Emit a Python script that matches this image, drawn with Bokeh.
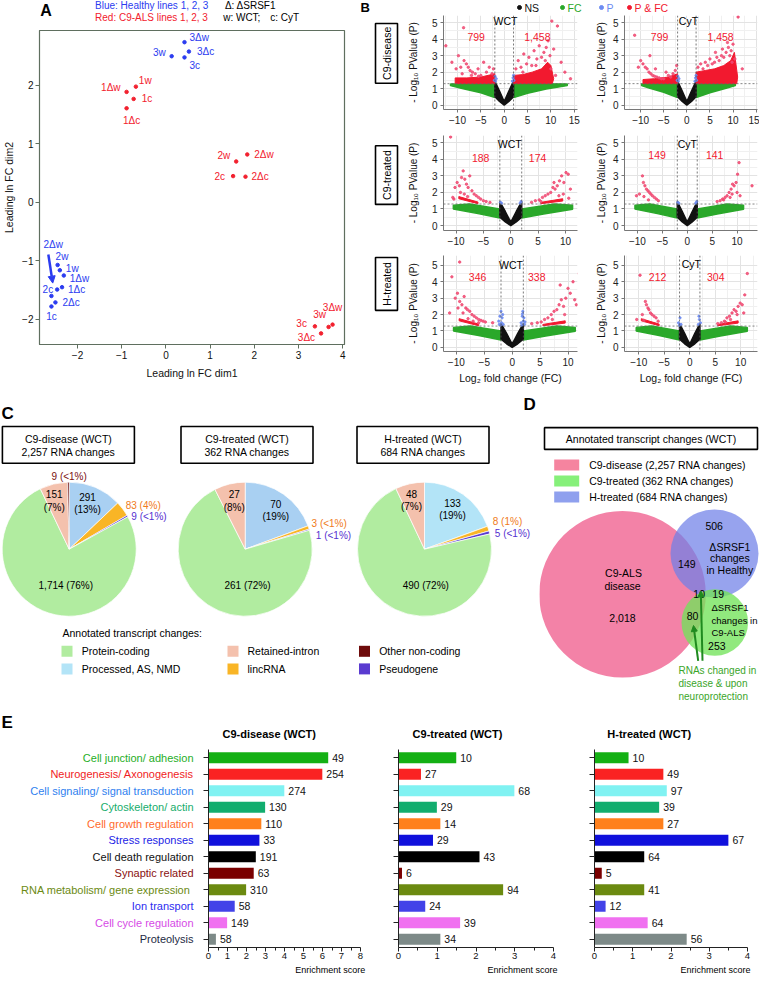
import numpy as np
from bokeh.plotting import figure
from bokeh.layouts import row, column
from bokeh.models import Range1d, FactorRange, FixedTicker, Arrow, NormalHead, Span
from bokeh.core.properties import value
from bokeh.embed import file_html
from bokeh.resources import INLINE

FONT = "Liberation Sans"
BLUE = "#2b3cf0"
RED = "#f2202e"

# ---------------- Panel A data (MDS plot) ----------------
a_xticks = [-2, -1, 0, 1, 2, 3, 4]
a_yticks = [-2, -1, 0, 1, 2]
healthy_labels = ["3\u0394w", "3w", "3\u0394c", "3c", "2w", "1w", "1\u0394w", "1\u0394c", "2c", "2\u0394w", "2\u0394c", "1c"]
healthy_x = [0.42, 0.13, 0.52, 0.42, -2.45, -2.40, -2.31, -2.35, -2.46, -2.59, -2.50, -2.59]
healthy_y = [2.74, 2.50, 2.58, 2.48, -1.07, -1.16, -1.25, -1.45, -1.49, -1.60, -1.71, -1.78]
c9_labels = ["1w", "1\u0394w", "1c", "1\u0394c", "2w", "2\u0394w", "2c", "2\u0394c", "3c", "3w", "3\u0394w", "3\u0394c"]
c9_x = [-0.68, -0.89, -0.73, -0.89, 1.59, 1.84, 1.52, 1.80, 3.37, 3.68, 3.77, 3.51]
c9_y = [1.98, 1.89, 1.77, 1.61, 0.70, 0.82, 0.45, 0.44, -2.12, -2.13, -2.09, -2.24]
# label placement (style): align, dx, dy in px
healthy_lab_style = [("left", 5, -5), ("right", -6, -4), ("left", 8, 0), ("left", 5, 8),
                     ("left", -2, -8), ("left", 6, -2), ("left", 6, 3), ("left", 6, 2),
                     ("right", -4, 0), ("left", -8, -51), ("left", 7, 0), ("center", 0, 10)]
c9_lab_style = [("left", 3, -6), ("right", -6, -4), ("left", 8, 0), ("center", 5, 12),
                ("right", -6, -6), ("left", 7, 0), ("right", -8, 0), ("left", 6, 0),
                ("right", -8, -3), ("center", -9, -12), ("center", 0, -17), ("right", -6, 4)]

# ---------------- Panel B data (volcano plots, envelopes) ----------------
V_X = [-2.0, -2.0, -1.0, 0.0, 1.0, 2.0, 2.0, 1.0, 0.15, -0.15, -1.0]
V_Y = [1.45, 0.50, 0.22, 0.0, 0.22, 0.50, 1.45, 0.85, 0.30, 0.30, 0.85]
# green wings, row 1
g1w_R_X = [2.0, 2.0, 5.0, 9.0, 13.5, 13.5, 2.0]
g1w_R_Y = [1.30, 0.45, 0.72, 0.98, 1.18, 1.28, 1.30]
g1w_L_X = [-2.0, -2.0, -5.0, -9.0, -11.5, -11.5, -2.0]
g1w_L_Y = [1.30, 0.45, 0.75, 1.00, 1.18, 1.28, 1.30]
g1c_R_X = [2.0, 2.0, 5.0, 8.5, 10.5, 10.5, 2.0]
g1c_R_Y = [1.30, 0.45, 0.75, 1.02, 1.18, 1.28, 1.30]
g1c_L_X = [-2.0, -2.0, -5.0, -8.0, -9.8, -9.8, -2.0]
g1c_L_Y = [1.30, 0.45, 0.78, 1.02, 1.18, 1.28, 1.30]
# green fans, rows 2-3
gf_R_X = [2.0, 2.0, 6.0, 11.3, 11.3, 8.0, 2.0]
gf_R_Y = [1.00, 0.45, 0.70, 0.98, 1.22, 1.30, 1.00]
gf_L_X = [-2.0, -2.0, -6.0, -10.5, -10.5, -7.5, -2.0]
gf_L_Y = [1.00, 0.45, 0.72, 1.00, 1.22, 1.30, 1.00]
# dense red bands
rb1w_R_X = [2.0, 10.3, 10.6, 10.0, 9.3, 8.0, 6.0, 4.0, 2.0]
rb1w_R_Y = [1.30, 1.30, 1.60, 2.40, 2.60, 2.20, 2.00, 1.85, 1.80]
rb1w_L_X = [-2.0, -10.5, -10.5, -8.0, -5.0, -2.0]
rb1w_L_Y = [1.30, 1.30, 1.65, 1.65, 1.70, 1.90]
rb1c_R_X = [2.0, 10.8, 11.0, 10.3, 9.5, 8.0, 6.0, 4.0, 2.0]
rb1c_R_Y = [1.30, 1.30, 1.70, 3.20, 2.70, 2.40, 2.20, 2.10, 2.00]
rb1c_L_X = [-2.0, -9.5, -9.5, -7.0, -4.0, -2.0]
rb1c_L_Y = [1.30, 1.30, 1.55, 1.60, 1.70, 1.90]
rbf_R_X = [5.5, 9.5, 9.5, 5.5]
rbf_R_Y = [1.32, 1.48, 1.62, 1.40]
rbf_L_X = [-9.5, -6.0, -6.0, -9.5]
rbf_L_Y = [1.62, 1.32, 1.42, 1.75]
# scattered significant points
r1w_red_x = [-12.5, -11.2, -10.3, -9.8, -9.3, -8.7, -8.6, -8.1, -7.7, -7.3, -6.8, -6.2, -5.6, -5.0, -4.4, -3.8, -3.2, -2.6, -2.3, -9.0, -7.0, -5.5,
             2.5, 3.0, 3.6, 4.2, 4.8, 5.3, 5.9, 6.4, 7.0, 7.5, 8.0, 8.5, 9.0, 9.4, 9.8, 10.2, 10.6, 11.4, 12.2, 13.0, 14.2, 6.8, 8.8, 4.0, 10.0, 11.0]
r1w_red_y = [3.6, 2.6, 2.2, 3.0, 2.3, 4.7, 2.7, 2.5, 2.3, 2.1, 2.0, 1.9, 2.2, 1.8, 2.6, 2.0, 2.3, 1.9, 2.2, 1.9, 1.8, 1.75,
             2.2, 2.7, 2.3, 3.1, 2.5, 2.9, 2.4, 3.3, 2.8, 3.6, 2.9, 3.2, 3.5, 3.9, 3.0, 5.1, 3.4, 4.8, 2.6, 2.0, 1.6, 2.4, 2.7, 2.0, 2.2, 1.8]
r1c_red_x = [-11.3, -10.5, -10.0, -9.5, -9.0, -8.6, -8.2, -7.8, -7.4, -7.0, -6.5, -6.0, -5.5, -5.0, -4.5, -4.0, -3.5, -3.0, -2.5, -2.2, -8.0, -6.8,
             2.4, 3.0, 3.5, 4.0, 4.5, 5.0, 5.5, 6.0, 6.5, 7.0, 7.5, 8.0, 8.5, 9.0, 9.3, 9.6, 10.0, 10.4, 11.1, 12.0, 6.2, 7.7, 8.8, 9.8]
r1c_red_y = [4.24, 2.3, 2.7, 2.5, 2.3, 2.2, 2.0, 1.9, 1.8, 1.75, 1.7, 1.65, 1.6, 1.6, 2.0, 1.8, 1.7, 1.9, 2.1, 2.4, 3.0, 2.2,
             2.3, 2.5, 2.2, 2.6, 2.4, 2.8, 2.5, 2.6, 2.9, 2.7, 3.0, 2.9, 3.2, 3.5, 3.0, 3.3, 3.7, 2.8, 5.35, 2.2, 3.2, 3.4, 3.8, 2.6]
r2w_red_x = [-11.0, -10.6, -10.2, -9.8, -9.4, -9.0, -8.7, -8.4, -8.1, -7.8, -7.5, -7.1, -6.7, -6.3, -5.9, -5.5, -5.0, -4.5, -9.2, -8.5, -7.9, -10.4, -3.8,
             3.8, 4.5, 5.2, 5.8, 6.3, 6.8, 7.3, 7.7, 8.1, 8.5, 8.9, 9.3, 9.7, 10.1, 10.5, 10.9, 7.9, 8.8, 9.6, 10.6, 5.5]
r2w_red_y = [5.35, 1.7, 2.3, 2.6, 2.4, 2.9, 3.3, 2.8, 2.5, 2.3, 3.0, 2.1, 1.9, 1.8, 1.7, 1.6, 1.5, 1.45, 2.0, 1.9, 1.75, 1.6, 1.4,
             1.4, 1.5, 1.55, 1.7, 1.8, 1.9, 2.0, 2.3, 2.2, 2.4, 2.7, 3.0, 2.6, 3.2, 3.1, 2.2, 2.6, 1.8, 1.9, 1.65, 1.45]
r2c_red_x = [-9.0, -8.8, -8.5, -8.2, -7.9, -7.6, -7.3, -7.0, -6.6, -6.2, -9.6, -10.2, -8.7, -7.8, -5.8,
             6.0, 6.6, 7.1, 7.6, 8.0, 8.4, 8.8, 9.1, 9.4, 9.8, 10.1, 10.4, 13.0, 9.0, 8.6, 7.3, 10.6, 10.0]
r2c_red_y = [3.0, 2.6, 2.4, 2.2, 2.1, 2.0, 1.9, 1.8, 1.7, 1.6, 1.9, 1.8, 1.75, 1.55, 1.5,
             1.45, 1.5, 1.6, 1.7, 1.8, 2.0, 2.2, 2.5, 2.4, 2.6, 3.1, 3.8, 2.4, 1.9, 1.7, 1.55, 1.8, 2.0]
r3w_red_x = [-10.8, -9.4, -10.2, -9.8, -9.4, -9.0, -8.6, -8.3, -8.0, -7.6, -7.2, -6.8, -6.4, -6.0, -5.6, -5.2, -4.8, -9.7, -8.8, -7.9, -7.0, -6.0, -11.2, -3.5,
             3.5, 4.5, 5.2, 5.8, 6.4, 7.0, 7.5, 8.0, 8.4, 8.8, 9.2, 9.6, 10.0, 10.4, 10.9, 11.5, 12.0, 8.6, 9.4, 7.2, 11.2]
r3w_red_y = [4.3, 5.2, 3.0, 3.3, 2.8, 2.6, 3.1, 2.4, 2.3, 2.2, 2.0, 1.9, 1.8, 1.7, 1.65, 1.6, 1.55, 2.4, 2.1, 1.75, 1.6, 1.5, 2.1, 1.5,
             1.45, 1.5, 1.55, 1.7, 1.8, 2.0, 2.2, 2.3, 2.6, 2.9, 2.5, 3.0, 3.6, 3.3, 4.0, 2.6, 4.5, 3.8, 2.0, 1.7, 2.9]
r3c_red_x = [-9.75, -8.7, -8.5, -8.2, -8.0, -7.7, -7.4, -7.0, -6.6, -9.3, -10.4, -9.0, -6.2,
             5.5, 6.2, 6.8, 7.3, 7.8, 8.3, 8.7, 9.1, 9.5, 9.9, 10.3, 10.8, 11.3, 8.0, 9.3, 7.0, 10.6]
r3c_red_y = [4.4, 2.8, 2.6, 2.4, 2.3, 2.1, 2.0, 1.9, 1.8, 2.0, 1.7, 1.65, 1.6,
             1.45, 1.5, 1.6, 1.8, 1.9, 2.1, 2.3, 2.2, 2.5, 2.7, 2.6, 3.2, 4.5, 1.7, 2.0, 1.55, 2.1]
r1_blue_x = [-2.1, -1.95, -1.85, -1.7, 1.75, 1.9, 2.0, 2.1]
r1_blue_y = [1.5, 1.75, 1.45, 1.6, 1.45, 1.65, 1.8, 1.5]
r2_blue_x = [-1.9, -1.7, 1.7, 1.9]
r2_blue_y = [1.4, 1.35, 1.35, 1.45]
r3w_blue_x = [-2.4, -2.2, -2.0, -1.9, -1.8, -1.6, -2.1, -1.7, -2.3, 1.6, 1.8, 1.9, 2.0, 2.2, 1.7, 2.1, 2.3, 1.85]
r3w_blue_y = [1.6, 1.9, 2.2, 1.5, 1.8, 1.4, 1.35, 2.0, 1.4, 1.5, 1.9, 2.2, 1.6, 1.4, 1.35, 1.8, 1.55, 2.05]
r3c_blue_x = [-2.2, -1.9, -1.7, -2.0, 1.7, 1.9, 2.1, 1.8]
r3c_blue_y = [1.5, 1.8, 1.4, 1.35, 1.4, 1.7, 1.5, 1.9]
# numbers of significant changes (down, up)
r1w_counts = [799, 1458]
r1c_counts = [799, 1458]
r2w_counts = [188, 174]
r2c_counts = [149, 141]
r3w_counts = [346, 338]
r3c_counts = [212, 304]
fc_cut = 2.0
p_cut = 1.3
row_names = ["C9-disease", "C9-treated", "H-treated"]

# ---------------- Panel C data (pies) ----------------
pie_cats = ["Processed, AS, NMD", "lincRNA", "Pseudogene", "Protein-coding", "Retained-intron", "Other non-coding"]
pie1_vals = [291, 83, 9, 1714, 151, 9]
pie2_vals = [70, 3, 1, 261, 27, 0]
pie3_vals = [133, 8, 5, 490, 48, 0]
pie1_pct = ["13%", "4%", "<1%", "76%", "7%", "<1%"]
pie2_pct = ["19%", "<1%", "<1%", "72%", "8%", ""]
pie3_pct = ["19%", "1%", "<1%", "72%", "7%", ""]
pie_titles = ["C9-disease (WCT)", "C9-treated (WCT)", "H-treated (WCT)"]

# ---------------- Panel D data (Venn) ----------------
venn_only_disease = 2018
venn_disease_healthy = 149
venn_only_healthy = 506
venn_all = 10
venn_healthy_c9t = 19
venn_disease_c9t = 80
venn_only_c9t = 253

# ---------------- Panel E data (enrichment) ----------------
e_cats = ["Cell junction/ adhesion", "Neurogenesis/ Axonogenesis", "Cell signaling/ signal transduction",
          "Cytoskeleton/ actin", "Cell growth regulation", "Stress responses", "Cell death regulation",
          "Synaptic related", "RNA metabolism/  gene expression", "Ion transport", "Cell cycle regulation", "Proteolysis"]
e1_scores = [6.30, 5.99, 3.99, 2.98, 2.78, 2.68, 2.49, 2.38, 1.98, 1.38, 0.98, 0.39]
e1_counts = [49, 254, 274, 130, 110, 33, 191, 63, 310, 58, 149, 58]
e2_scores = [1.49, 0.58, 2.99, 0.99, 1.08, 0.89, 2.09, 0.09, 2.70, 0.69, 1.59, 1.08]
e2_counts = [10, 27, 68, 29, 14, 29, 43, 6, 94, 24, 39, 34]
e3_scores = [0.89, 1.80, 1.89, 1.69, 1.80, 3.50, 1.30, 0.19, 1.30, 0.29, 1.39, 2.41]
e3_counts = [10, 49, 97, 39, 27, 67, 64, 5, 41, 12, 64, 56]
e_titles = ["C9-disease (WCT)", "C9-treated (WCT)", "H-treated (WCT)"]

# ---------------- styles ----------------
e_label_colors = ["#1fae1f", "#f01c24", "#2f7fef", "#17ad6c", "#ff6a2c", "#1c1ce6", "#111111",
                  "#8a1010", "#6b8a12", "#2c2cf0", "#d64ae6", "#1e2a44"]
e_bar_colors = ["#14b014", "#fa2222", "#80f2f2", "#12ad6e", "#ff801c", "#1010dc", "#000000",
                "#7a0000", "#6b8a10", "#4242e8", "#f070f0", "#7d8a88"]
pie_colors = ["#a9d0f2", "#f9b526", "#5a3bd0", "#b1eca0", "#f4c1ad", "#6e0b0b"]
pie3_colors = ["#b3e4f7", "#f9b526", "#5a3bd0", "#b1eca0", "#f4c1ad", "#6e0b0b"]
NS_C, FC_C, P_C, PFC_C, PFC_PT = "#111111", "#2aa82a", "#6d8cf2", "#f2192f", "#f04a72"


def canvas(w, h, x0, y0):
    p = figure(width=w, height=h, x_range=Range1d(x0, x0 + w), y_range=Range1d(y0 + h, y0),
               x_axis_type=None, y_axis_type=None, output_backend="svg", toolbar_location=None,
               min_border_left=0, min_border_right=0, min_border_top=0, min_border_bottom=0)
    p.outline_line_color = None
    return p


def txt(p, x, y, s, size=10.5, color="black", align="center", baseline="middle", bold=False, angle=0.0, **kw):
    xs = list(x) if isinstance(x, (list, tuple)) else [x]
    ys = list(y) if isinstance(y, (list, tuple)) else [y]
    ss = list(s) if isinstance(s, (list, tuple)) else [s]
    p.text(x=xs, y=ys, text=ss, text_font=value(FONT), text_font_size=f"{size}px",
           text_color=color, text_align=align, text_baseline=baseline,
           text_font_style="bold" if bold else "normal", angle=angle, **kw)


def style_axes(p, size="10px", color="#222222", line="#555555"):
    for ax in p.axis:
        ax.major_label_text_font = FONT
        ax.major_label_text_font_size = size
        ax.major_label_text_color = color
        ax.axis_label_text_font = FONT
        ax.axis_label_text_font_style = "normal"
        ax.axis_label_text_color = "#111111"
        ax.axis_line_color = line
        ax.major_tick_line_color = line
        ax.minor_tick_line_color = None
        ax.major_tick_in = 0
        ax.major_tick_out = 3
        ax.major_label_standoff = 2


# ================= Panel A =================
strip_a = canvas(357, 28, 8, 8)
txt(strip_a, 9, 18, "A", size=16, bold=True, align="left")
txt(strip_a, 73, 13, "Blue: Healthy lines 1, 2, 3", size=10, color=BLUE, align="left")
txt(strip_a, 73, 25, "Red: C9-ALS lines 1, 2, 3", size=10, color=RED, align="left")
txt(strip_a, 225, 13, "\u0394: \u0394SRSF1", size=10, align="left")
txt(strip_a, 223, 25, "w: WCT;", size=10, align="left")
txt(strip_a, 278, 25, "c: CyT", size=10, align="left")

pa = figure(width=357, height=364, x_range=Range1d(-2.86, 4.04), y_range=Range1d(-2.43, 2.94),
            min_border_left=31, min_border_right=13, min_border_top=2, min_border_bottom=48,
            output_backend="svg", toolbar_location=None)
pa.grid.visible = False
pa.outline_line_color = "#5f6f5f"
pa.outline_line_width = 1.2
pa.xaxis.ticker = FixedTicker(ticks=a_xticks)
pa.yaxis.ticker = FixedTicker(ticks=a_yticks)
style_axes(pa, size="10px", color="#111111", line="#5f6f5f")
pa.axis.major_tick_out = 4
pa.xaxis.axis_label = "Leading ln FC dim1"
pa.yaxis.axis_label = "Leading ln FC dim2"
pa.axis.axis_label_text_font_size = "10.5px"
pa.xaxis.axis_label_standoff = 5
pa.yaxis.axis_label_standoff = 4
pa.scatter(healthy_x, healthy_y, size=3.5, color=BLUE)
pa.scatter(c9_x, c9_y, size=3.5, color=RED)
for xs, ys, labs, sty, col in ((healthy_x, healthy_y, healthy_labels, healthy_lab_style, BLUE),
                               (c9_x, c9_y, c9_labels, c9_lab_style, RED)):
    for al in ("left", "right", "center"):
        idx = [i for i, s in enumerate(sty) if s[0] == al]
        if not idx:
            continue
        pa.text(x=[xs[i] for i in idx], y=[ys[i] for i in idx], text=[labs[i] for i in idx],
                x_offset=[sty[i][1] for i in idx], y_offset=[sty[i][2] for i in idx],
                text_font=value(FONT), text_font_size="10px", text_color=col,
                text_align=al, text_baseline="middle")
pa.add_layout(Arrow(end=NormalHead(size=7, fill_color=BLUE, line_color=BLUE),
                    x_start=-2.66, y_start=-0.89, x_end=-2.56, y_end=-1.38,
                    line_color=BLUE, line_width=2.5))
col_a = column(strip_a, pa)

# ================= Panel B =================
strip_b = canvas(402, 14, 365, 8)
txt(strip_b, 368, 15, "B", size=13, bold=True, align="left")
leg_items = [("NS", NS_C, 527), ("FC", FC_C, 570), ("P", P_C, 609), ("P & FC", PFC_C, 637)]
for name, c, lx in leg_items:
    strip_b.scatter([lx], [15], size=4, color=c)
    txt(strip_b, lx + 5, 15, name, size=10.5, color=c, align="left")


def volcano(w, h, bl, br, bt, bb, xr, yr, xticks, show_xlabel, ystand,
            gR, gL, rbR, rbL, red, blue, counts, title, tpos):
    p = figure(width=w, height=h, x_range=Range1d(*xr), y_range=Range1d(*yr),
               min_border_left=bl, min_border_right=br, min_border_top=bt, min_border_bottom=bb,
               output_backend="svg", toolbar_location=None)
    p.outline_line_color = None
    xminor = [t + 2.5 for t in xticks] + [xticks[0] - 2.5]
    p.xaxis.ticker = FixedTicker(ticks=xticks, minor_ticks=xminor)
    p.yaxis.ticker = FixedTicker(ticks=[0, 1, 2, 3, 4, 5], minor_ticks=[0.5, 1.5, 2.5, 3.5, 4.5])
    p.grid.grid_line_color = "#e3e3e3"
    p.grid.minor_grid_line_color = "#f0f0f0"
    style_axes(p, size="10px", color="#222222", line="#777777")
    p.yaxis.axis_label = "- Log\u2081\u2080 PValue (P)"
    p.yaxis.axis_label_standoff = ystand
    p.axis.axis_label_text_font_size = "10px"
    if show_xlabel:
        p.xaxis.axis_label = "Log\u2082 fold change (FC)"
        p.xaxis.axis_label_standoff = 3
        p.xaxis.axis_label_text_font_size = "10.5px"
    p.patch(gL[0], gL[1], color=FC_C, line_width=1.5)
    p.patch(gR[0], gR[1], color=FC_C, line_width=1.5)
    p.patch(V_X, V_Y, color=NS_C, line_width=1.5)
    if rbR is not None:
        p.patch(rbR[0], rbR[1], color=PFC_C, line_width=1)
        p.patch(rbL[0], rbL[1], color=PFC_C, line_width=1)
    p.scatter(red[0], red[1], size=2.4, color=PFC_PT, alpha=0.85)
    p.scatter(blue[0], blue[1], size=2.2, color=P_C, alpha=0.9)
    for loc in (-fc_cut, fc_cut):
        p.add_layout(Span(location=loc, dimension="height", line_color="#555555", line_dash="2 2", line_width=0.8))
    p.add_layout(Span(location=p_cut, dimension="width", line_color="#666666", line_dash="2 2", line_width=0.8))
    txt(p, tpos[0], tpos[1], title, size=10.5)
    txt(p, [tpos[2], tpos[3]], [tpos[4], tpos[4]], [f"{counts[0]:,}", f"{counts[1]:,}"], size=10.5, color=PFC_C)
    return p


def box_canvas(h, y0, ybox0, ybox1, name):
    c = canvas(47, h, 365, y0)
    c.rect(x=[394], y=[(ybox0 + ybox1) / 2], width=[22], height=[ybox1 - ybox0],
           fill_color=None, line_color="black", line_width=1.6)
    txt(c, 394, (ybox0 + ybox1) / 2, name, size=10.5, angle=np.pi / 2)
    return c


xt1 = [-10, -5, 0, 5, 10, 15]
xt2 = [-10, -5, 0, 5, 10]
b1 = row(box_canvas(118, 22, 32, 107, row_names[0]),
         volcano(188, 118, 35, 15, 1, 23, (-13.0, 15.7), (-0.27, 5.44), xt1, False, 10,
                 (g1w_R_X, g1w_R_Y), (g1w_L_X, g1w_L_Y), (rb1w_R_X, rb1w_R_Y), (rb1w_L_X, rb1w_L_Y),
                 (r1w_red_x, r1w_red_y), (r1_blue_x, r1_blue_y), r1w_counts, "WCT", (0.27, 5.1, -6.0, 7.1, 4.12)),
         volcano(167, 118, 28, 2, 1, 23, (-13.5, 15.3), (-0.27, 5.44), xt1, False, 3,
                 (g1c_R_X, g1c_R_Y), (g1c_L_X, g1c_L_Y), (rb1c_R_X, rb1c_R_Y), (rb1c_L_X, rb1c_L_Y),
                 (r1c_red_x, r1c_red_y), (r1_blue_x, r1_blue_y), r1c_counts, "CyT", (0.35, 5.1, -5.9, 7.3, 4.12)))
b2 = row(box_canvas(120, 140, 153, 227, row_names[1]),
         volcano(188, 120, 35, 15, 3, 22, (-12.3, 12.2), (-0.3, 5.44), xt2, False, 10,
                 (gf_R_X, gf_R_Y), (gf_L_X, gf_L_Y), (rbf_R_X, rbf_R_Y), (rbf_L_X, rbf_L_Y),
                 (r2w_red_x, r2w_red_y), (r2_blue_x, r2_blue_y), r2w_counts, "WCT", (-0.2, 4.9, -5.5, 4.9, 4.1)),
         volcano(167, 120, 28, 2, 3, 22, (-12.6, 14.1), (-0.3, 5.44), xt2, False, 3,
                 (gf_R_X, gf_R_Y), (gf_L_X, gf_L_Y), None, None,
                 (r2c_red_x, r2c_red_y), (r2_blue_x, r2_blue_y), r2c_counts, "CyT", (0.0, 4.9, -6.05, 5.5, 4.24)))
b3 = row(box_canvas(140, 260, 263, 340, row_names[2]),
         volcano(188, 140, 35, 15, 3, 41, (-12.3, 11.7), (-0.25, 5.6), xt2, True, 10,
                 (gf_R_X, gf_R_Y), (gf_L_X, gf_L_Y), (rbf_R_X, rbf_R_Y), (rbf_L_X, rbf_L_Y),
                 (r3w_red_x, r3w_red_y), (r3w_blue_x, r3w_blue_y), r3w_counts, "WCT", (-0.2, 5.0, -6.2, 4.4, 4.29)),
         volcano(167, 140, 28, 2, 3, 41, (-12.8, 13.3), (-0.25, 5.6), xt2, True, 3,
                 (gf_R_X, gf_R_Y), (gf_L_X, gf_L_Y), (rbf_R_X, rbf_R_Y), (rbf_L_X, rbf_L_Y),
                 (r3c_red_x, r3c_red_y), (r3c_blue_x, r3c_blue_y), r3c_counts, "CyT", (0.3, 5.1, -6.3, 5.1, 4.29)))
col_b = column(strip_b, b1, b2, b3)

# ================= Panel C =================
cc = canvas(539, 315, 8, 400)
txt(cc, 9, 421, "C", size=17, bold=True, align="left")
txt(cc, 531, 412, "D", size=17, bold=True, align="left")
box_cx = [75.9, 254.5, 430.5]
pie_cx = [76.7, 252.7, 432.0]
pie_cy = 556.7
pie_r = 67
for k, (vals, cols) in enumerate(((pie1_vals, pie_colors), (pie2_vals, pie_colors), (pie3_vals, pie3_colors))):
    cc.rect(x=[box_cx[k]], y=[452.4], width=[132], height=[36.7], fill_color=None,
            line_color="black", line_width=1.6)
    txt(cc, box_cx[k], 446.7, pie_titles[k], size=10.5)
    txt(cc, box_cx[k], 459.5, f"{sum(vals):,} RNA changes", size=10.5)
    tot = float(sum(vals))
    cum = np.cumsum([0] + list(vals)) / tot
    keep = [i for i, v in enumerate(vals) if v > 0]
    starts = [np.pi / 2 - 2 * np.pi * cum[i + 1] for i in keep]
    ends = [np.pi / 2 - 2 * np.pi * cum[i] for i in keep]
    cc.wedge(x=[pie_cx[k]] * len(keep), y=[pie_cy] * len(keep), radius=pie_r,
             start_angle=starts, end_angle=ends, fill_color=[cols[i] for i in keep],
             line_color="white", line_width=0.7)

DR, OR, PU = "#7b1010", "#f07a20", "#5530d0"
# pie 1 labels
txt(cc, 76.7, 484, f"{pie1_vals[5]} ({pie1_pct[5]})", size=10, color=DR)
txt(cc, [61.7, 61.7], [501.7, 515.0], [f"{pie1_vals[4]}", f"({pie1_pct[4]})"], size=10)
txt(cc, [95.0, 95.0], [504.0, 517.3], [f"{pie1_vals[0]}", f"({pie1_pct[0]})"], size=10)
txt(cc, 150.7, 513.3, f"{pie1_vals[1]} ({pie1_pct[1]})", size=10, color=OR)
txt(cc, 156.5, 524.0, f"{pie1_vals[2]} ({pie1_pct[2]})", size=10, color=PU)
txt(cc, 73.3, 593.3, f"{pie1_vals[3]:,} ({pie1_pct[3]})", size=10)
# pie 2 labels
txt(cc, [241.7, 241.7], [501.7, 515.0], [f"{pie2_vals[4]}", f"({pie2_pct[4]})"], size=10)
txt(cc, [283.3, 283.3], [511.7, 524.3], [f"{pie2_vals[0]}", f"({pie2_pct[0]})"], size=10)
txt(cc, 336.7, 531.0, f"{pie2_vals[1]} ({pie2_pct[1]})", size=10, color=OR)
txt(cc, 341.0, 542.7, f"{pie2_vals[2]} ({pie2_pct[2]})", size=10, color=PU)
txt(cc, 255.0, 593.3, f"{pie2_vals[3]} ({pie2_pct[3]})", size=10)
# pie 3 labels
txt(cc, [419.0, 419.0], [501.7, 514.3], [f"{pie3_vals[4]}", f"({pie3_pct[4]})"], size=10)
txt(cc, [460.0, 460.0], [510.0, 523.3], [f"{pie3_vals[0]}", f"({pie3_pct[0]})"], size=10)
txt(cc, 515.0, 529.3, f"{pie3_vals[1]} ({pie3_pct[1]})", size=10, color=OR)
txt(cc, 520.0, 540.7, f"{pie3_vals[2]} ({pie3_pct[2]})", size=10, color=PU)
txt(cc, 433.3, 593.3, f"{pie3_vals[3]} ({pie3_pct[3]})", size=10)
# legend
txt(cc, 70, 640, "Annotated transcript changes:", size=10.5, align="left")
leg_order = [3, 0, 4, 1, 5, 2]
leg_sw_x = [74.5, 74.5, 240.5, 240.5, 372.0, 372.0]
leg_sw_y = [658.8, 676.4, 658.8, 676.4, 658.8, 676.4]
leg_tx_x = [89.3, 89.3, 255.0, 255.0, 386.7, 386.7]
cc.rect(x=leg_sw_x, y=leg_sw_y, width=11, height=11, fill_color=[pie3_colors[i] for i in leg_order], line_color=None)
txt(cc, leg_tx_x, leg_sw_y, [pie_cats[i] for i in leg_order], size=10.5, align="left")

# ================= Panel D =================
dd = canvas(220, 315, 547, 400)
dd.rect(x=[658.5], y=[446.0], width=[213], height=[21.7], fill_color=None, line_color="black", line_width=1.6)
txt(dd, 658.5, 446.7, "Annotated transcript changes (WCT)", size=10.5)
venn_leg = [f"C9-disease ({sum(pie1_vals):,} RNA changes)", f"C9-treated ({sum(pie2_vals)} RNA changes)",
            f"H-treated ({sum(pie3_vals)} RNA changes)"]
dd.rect(x=[574.2] * 3, y=[472.5, 488.5, 504.5], width=25, height=11,
        fill_color=["#f5849f", "#86f07a", "#8fa0ee"], line_color=None)
txt(dd, [596.7] * 3, [472.5, 488.5, 504.5], venn_leg, size=10.5, align="left")
dd.circle(x=[630.0], y=[601.7], radius=83.3, fill_color="#f27ba2", fill_alpha=0.95, line_color=None)
dd.circle(x=[722.0], y=[561.0], radius=44.0, fill_color="#6f7fe8", fill_alpha=0.72, line_color=None)
dd.circle(x=[722.3], y=[630.0], radius=33.3, fill_color="#72e35a", fill_alpha=0.78, line_color=None)
txt(dd, [631, 630, 630], [580.7, 593.3, 625.7], ["C9-ALS", "disease", f"{venn_only_disease:,}"], size=10.5)
txt(dd, 721.7, 533.3, f"{venn_only_healthy}", size=10.5)
txt(dd, [737.3, 737.3, 737.3], [554.0, 565.7, 577.3], ["\u0394SRSF1", "changes", "in Healthy"], size=10.5)
txt(dd, 694.3, 571.7, f"{venn_disease_healthy}", size=10.5)
txt(dd, [706.7, 725.7], [601.0, 601.0], [f"{venn_all}", f"{venn_healthy_c9t}"], size=10.5)
txt(dd, 700.0, 623.3, f"{venn_disease_c9t}", size=10.5)
txt(dd, [719.0, 719.0, 719.0], [615.0, 627.7, 640.0], ["\u0394SRSF1", "changes in", "C9-ALS"], size=9.5, align="left")
txt(dd, 724.3, 653.3, f"{venn_only_c9t}", size=10.5)
AG = "#1f8a1f"
txt(dd, [686.0] * 3, [678.3, 691.0, 704.0], ["RNAs changed in", "disease & upon", "neuroprotection"],
    size=10, color="#3aa52a", align="left")
dd.add_layout(Arrow(end=NormalHead(size=6, fill_color=AG, line_color=AG), x_start=705.7, y_start=668.3,
                    x_end=701.0, y_end=633.0, line_color=AG, line_width=2))
dd.add_layout(Arrow(end=NormalHead(size=6, fill_color=AG, line_color=AG), x_start=710.0, y_start=668.3,
                    x_end=708.3, y_end=598.5, line_color=AG, line_width=2))

# ================= Panel E =================
e_top = canvas(759, 33, 8, 715)
txt(e_top, 9, 730, "E", size=17, bold=True, align="left")
txt(e_top, [276.7, 465.0, 656.7], [741.5] * 3, e_titles, size=11, bold=True)

e_yr = FactorRange(factors=list(reversed(e_cats)), range_padding=0)
e_lab = figure(width=197, height=224, x_range=Range1d(8, 205), y_range=e_yr, x_axis_type=None, y_axis_type=None,
               min_border_left=0, min_border_right=0, min_border_top=9, min_border_bottom=17,
               output_backend="svg", toolbar_location=None)
e_lab.outline_line_color = None
e_lab.text(x=[201] * len(e_cats), y=e_cats, text=e_cats, text_color=e_label_colors,
           text_font=value(FONT), text_font_size="11px", text_align="right", text_baseline="middle")


def efig(w, bl, br, xmax, scores, counts):
    p = figure(width=w, height=224, x_range=Range1d(0, xmax), y_range=e_yr,
               min_border_left=bl, min_border_right=br, min_border_top=9, min_border_bottom=17,
               output_backend="svg", toolbar_location=None)
    p.outline_line_color = None
    p.grid.visible = False
    p.hbar(y=e_cats, left=0, right=scores, height=0.66, fill_color=e_bar_colors, line_color=None)
    p.text(x=scores, y=e_cats, text=[str(c) for c in counts], x_offset=4, text_font=value(FONT),
           text_font_size="10.5px", text_align="left", text_baseline="middle", text_color="#111111")
    p.xaxis.ticker = FixedTicker(ticks=list(range(xmax + 1)), minor_ticks=[i + 0.5 for i in range(xmax)])
    style_axes(p, size="9.5px", color="#111111", line="#222222")
    p.xaxis.minor_tick_line_color = "#222222"
    p.xaxis.minor_tick_out = 3
    p.xaxis.minor_tick_in = 0
    p.xaxis.major_tick_out = 4
    p.xaxis.major_label_standoff = 1
    p.yaxis.major_tick_out = 5
    p.yaxis.major_label_text_font_size = "1px"
    p.yaxis.major_label_text_color = None
    p.yaxis.major_label_standoff = 0
    return p


e1 = efig(185, 11, 22, 8, e1_scores, e1_counts)
e2 = efig(190, 16, 19, 4, e2_scores, e2_counts)
e3 = efig(187, 22, 12, 4, e3_scores, e3_counts)

e_bot = canvas(759, 12, 8, 972)
txt(e_bot, [372.7, 565.0, 758.0], [977.5] * 3, ["Enrichment score"] * 3, size=9, align="right")

layout = column(row(col_a, col_b), row(cc, dd), column(e_top, row(e_lab, e1, e2, e3), e_bot))
open("out.html", "w").write(file_html(layout, INLINE))
